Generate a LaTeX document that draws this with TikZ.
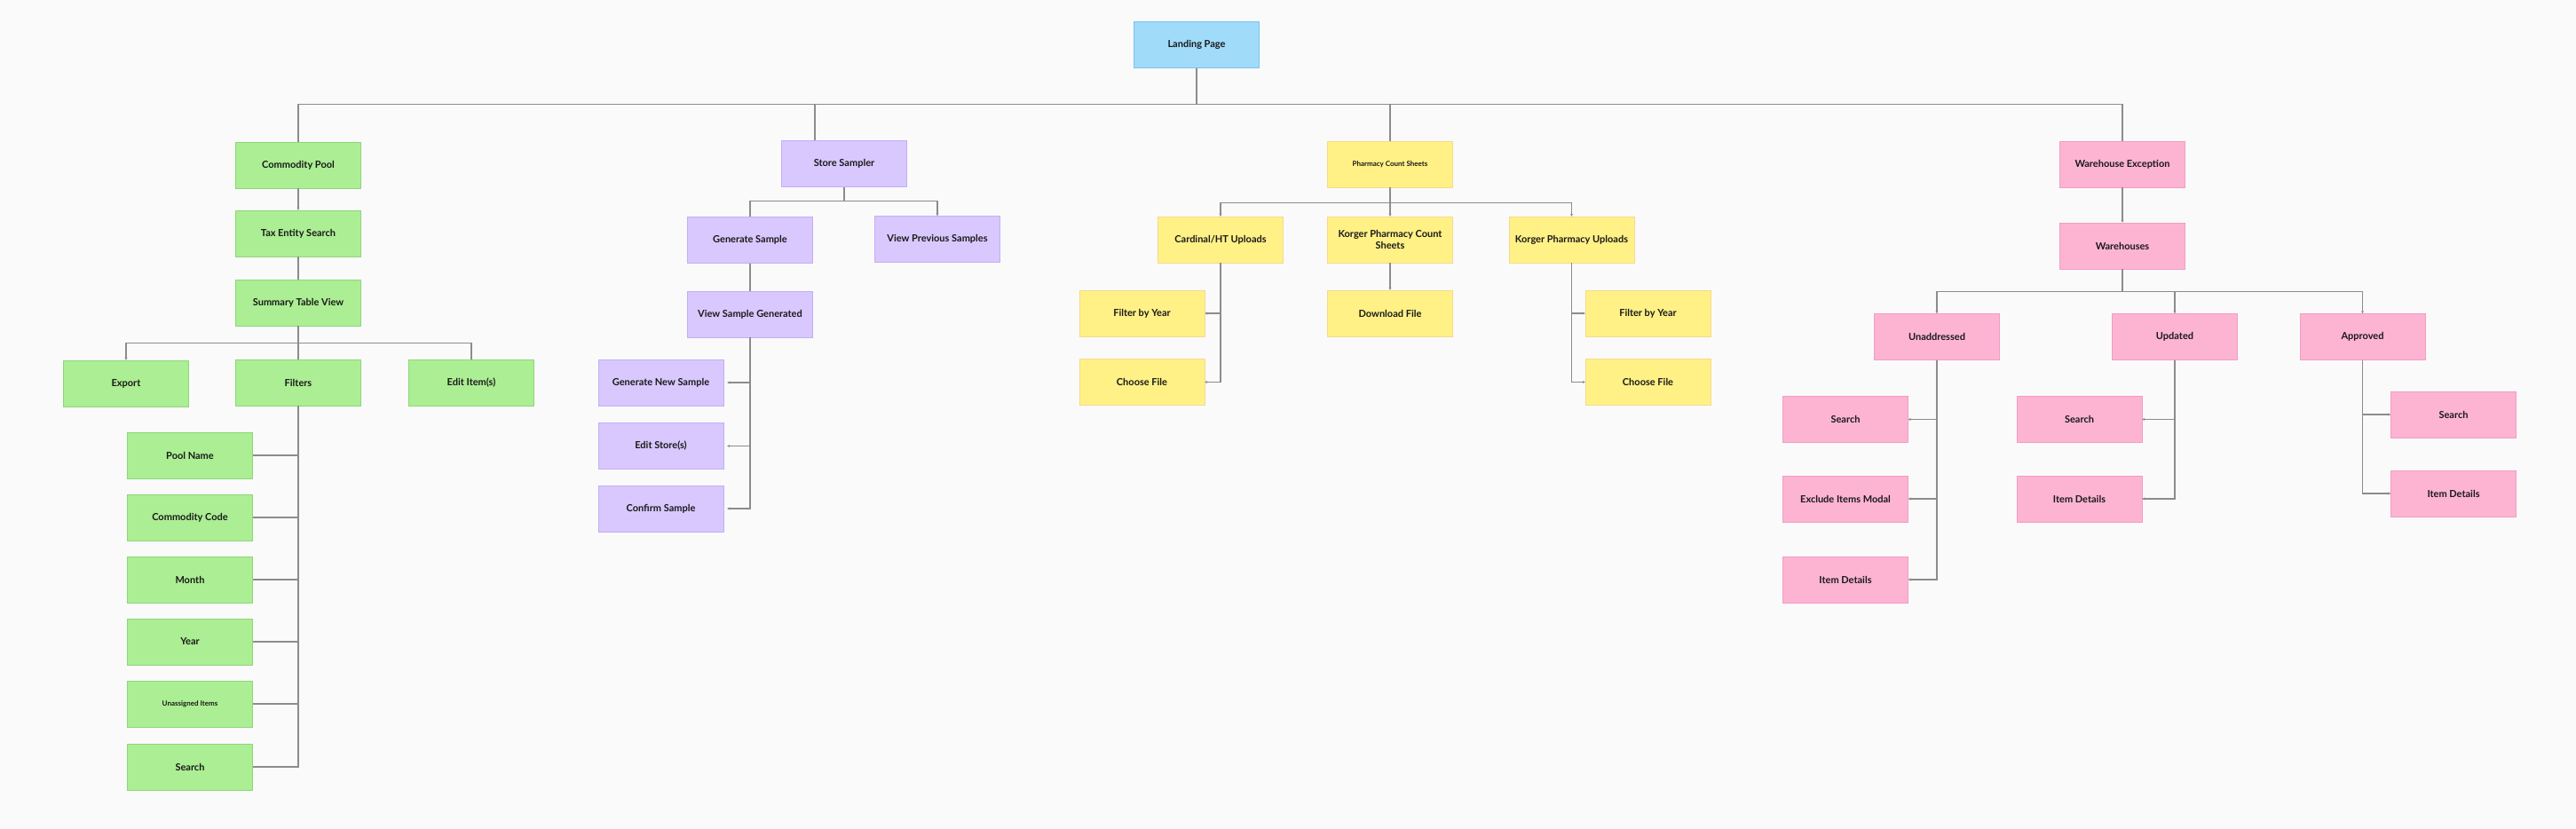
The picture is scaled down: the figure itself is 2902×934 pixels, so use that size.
\documentclass[tikz,border=0pt]{standalone}
\usepackage{fontspec}
\setmainfont{Lato}
\usepackage{xcolor}
\usetikzlibrary{arrows.meta}

\definecolor{bgcol}{HTML}{FAFAFA}
\definecolor{linecol}{HTML}{8C8C8C}
\definecolor{greenfill}{HTML}{ABEE93}
\definecolor{greenline}{HTML}{8ED67A}
\definecolor{purplefill}{HTML}{D8C8FD}
\definecolor{purpleline}{HTML}{C3AEF5}
\definecolor{yellowfill}{HTML}{FFF186}
\definecolor{yellowline}{HTML}{F6D98C}
\definecolor{pinkfill}{HTML}{FDB4D3}
\definecolor{pinkline}{HTML}{F39CC2}
\definecolor{bluefill}{HTML}{A0DBFA}
\definecolor{blueline}{HTML}{7CC3EE}

\tikzset{
  page/.style={draw=#1line, fill=#1fill, minimum width=141pt, minimum height=52pt,
    inner sep=2pt, align=center, text=black!90,
    font=\fontsize{11}{13}\selectfont\bfseries},
  small/.style={font=\fontsize{8}{10}\selectfont\bfseries},
  link/.style={draw=linecol, line width=1.3pt, -{Stealth[length=3pt,width=3pt]}},
  plain/.style={draw=linecol, line width=1.3pt}
}

\begin{document}
\begin{tikzpicture}[x=1pt, y=-1pt]
  % Canvas
  \fill[bgcol] (0,0) rectangle (2902,934);
  \useasboundingbox (0,0) rectangle (2902,934);

  % Root
  \node[page=blue] (landing) at (1348,50.5) {Landing Page};

  % Commodity Pool branch
  \node[page=green] (cpool) at (336,186) {Commodity Pool};
  \node[page=green] (taxsearch) at (336,263) {Tax Entity Search};
  \node[page=green] (summary) at (336,341) {Summary Table View};
  \node[page=green] (export) at (142,432) {Export};
  \node[page=green] (filters) at (336,431) {Filters};
  \node[page=green] (edititems) at (531,431) {Edit Item(s)};
  \node[page=green] (poolname) at (214,513) {Pool Name};
  \node[page=green] (ccode) at (214,583) {Commodity Code};
  \node[page=green] (month) at (214,653) {Month};
  \node[page=green] (year) at (214,723) {Year};
  \node[page=green, small] (unassigned) at (214,793) {Unassigned Items};
  \node[page=green] (csearch) at (214,864) {Search};

  % Store Sampler branch
  \node[page=purple] (sampler) at (951,184.5) {Store Sampler};
  \node[page=purple] (gensample) at (845,270.5) {Generate Sample};
  \node[page=purple] (viewprev) at (1056,269.5) {View Previous Samples};
  \node[page=purple] (viewgen) at (845,354) {View Sample Generated};
  \node[page=purple] (gennew) at (744.5,431) {Generate New Sample};
  \node[page=purple] (editstore) at (744.5,502.5) {Edit Store(s)};
  \node[page=purple] (confirm) at (744.5,573) {Confirm Sample};

  % Pharmacy Count Sheets branch
  \node[page=yellow, small] (pharmacy) at (1566,185) {Pharmacy Count Sheets};
  \node[page=yellow] (cardinal) at (1375,270) {Cardinal/HT Uploads};
  \node[page=yellow] (korgercount) at (1566,270) {Korger Pharmacy Count\\Sheets};
  \node[page=yellow] (korgerup) at (1770.5,270) {Korger Pharmacy Uploads};
  \node[page=yellow] (cfilter) at (1286.5,353) {Filter by Year};
  \node[page=yellow] (cchoose) at (1286.5,430.5) {Choose File};
  \node[page=yellow] (download) at (1566,353) {Download File};
  \node[page=yellow] (kfilter) at (1856.5,353) {Filter by Year};
  \node[page=yellow] (kchoose) at (1856.5,430.5) {Choose File};

  % Warehouse Exception branch
  \node[page=pink] (exception) at (2391,185) {Warehouse Exception};
  \node[page=pink] (warehouses) at (2391,277) {Warehouses};
  \node[page=pink] (unaddressed) at (2182,379.5) {Unaddressed};
  \node[page=pink] (updated) at (2450,379.5) {Updated};
  \node[page=pink] (approved) at (2661.5,379.5) {Approved};
  \node[page=pink] (usearch) at (2079,472.5) {Search};
  \node[page=pink] (uexclude) at (2079,562) {Exclude Items Modal};
  \node[page=pink] (udetails) at (2079,653) {Item Details};
  \node[page=pink] (psearch) at (2342.5,472.5) {Search};
  \node[page=pink] (pdetails) at (2342.5,562) {Item Details};
  \node[page=pink] (asearch) at (2764,467) {Search};
  \node[page=pink] (adetails) at (2764,556) {Item Details};

  % Top level connectors
  \draw[plain] (landing.south) -- ++(0,41) -| (cpool.north);
  \draw[plain] (landing.south) -- ++(0,41) -| ([xshift=-33pt]sampler.north);
  \draw[plain] (landing.south) -- ++(0,41) -| (pharmacy.north);
  \draw[plain] (landing.south) -- ++(0,41) -| (exception.north);

  % Commodity Pool connectors
  \draw[link] (cpool) -- (taxsearch);
  \draw[plain] (taxsearch) -- (summary);
  \draw[link] (summary.south) -- ++(0,19) -| (export.north);
  \draw[plain] (summary.south) -- (filters.north);
  \draw[plain] (summary.south) -- ++(0,19) -| (edititems.north);
  \foreach \n in {poolname, ccode, month, year, unassigned, csearch}
    \draw[plain] (filters.south) |- (\n.east);

  % Store Sampler connectors
  \draw[plain] (sampler.south) -- ++(0,16) -| (gensample.north);
  \draw[link] (sampler.south) -- ++(0,16) -| (viewprev.north);
  \draw[plain] (gensample) -- (viewgen);
  \foreach \n in {gennew, editstore, confirm}
    \draw[link] (viewgen.south) |- ([xshift=4pt]\n.east);

  % Pharmacy connectors
  \draw[link] (pharmacy.south) -- ++(0,17) -| (cardinal.north);
  \draw[link] (pharmacy.south) -- (korgercount.north);
  \draw[link] (pharmacy.south) -- ++(0,17) -| (korgerup.north);
  \draw[link] (korgercount) -- (download);
  \foreach \n in {cfilter, cchoose}
    \draw[link] (cardinal.south) |- (\n.east);
  \foreach \n in {kfilter, kchoose}
    \draw[link] (korgerup.south) |- (\n.west);

  % Warehouse connectors
  \draw[link] (exception) -- (warehouses);
  \draw[link] (warehouses.south) -- ++(0,25) -| (unaddressed.north);
  \draw[link] (warehouses.south) -- ++(0,25) -| (updated.north);
  \draw[link] (warehouses.south) -- ++(0,25) -| (approved.north);
  \foreach \n in {usearch, uexclude, udetails}
    \draw[link] (unaddressed.south) |- (\n.east);
  \foreach \n in {psearch, pdetails}
    \draw[link] (updated.south) |- (\n.east);
  \foreach \n in {asearch, adetails}
    \draw[link] (approved.south) |- (\n.west);
\end{tikzpicture}
\end{document}
